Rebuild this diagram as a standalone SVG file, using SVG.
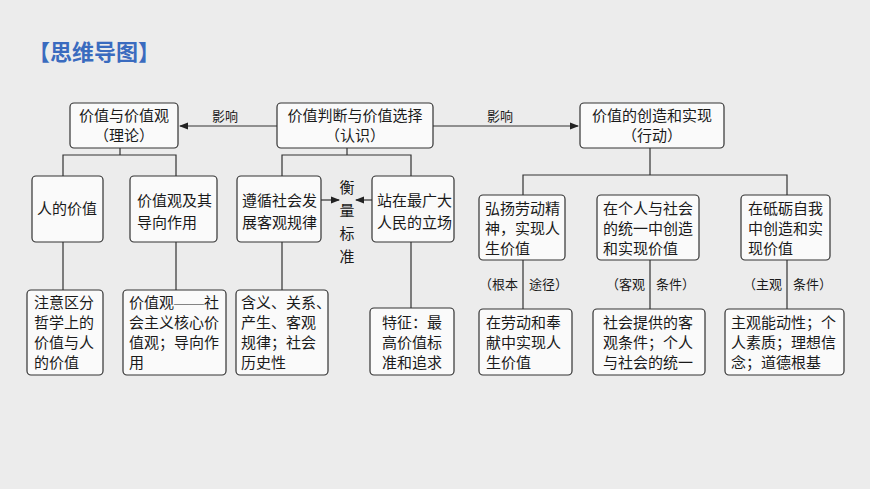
<svg xmlns="http://www.w3.org/2000/svg" width="870" height="489" viewBox="0 0 870 489">
<defs>
<marker id="ar" markerWidth="8" markerHeight="6" refX="7" refY="3" orient="auto"><path d="M0,0 L8,3 L0,6 z" fill="#222"/></marker>
<style>
.b{fill:#fafafa;stroke:#333;stroke-width:1.2}
.t{font-family:"Liberation Serif","Noto Sans CJK SC",serif;font-size:15px;fill:#1a1a1a}
.s{font-family:"Liberation Serif","Noto Sans CJK SC",serif;font-size:13px;fill:#1a1a1a}
.l{stroke:#333;stroke-width:1.2;fill:none}
</style>
</defs>
<rect width="870" height="489" fill="#ececec"/>
<text x="28" y="60" font-family="Noto Sans CJK SC,sans-serif" font-size="22" font-weight="bold" fill="#3a6bbf">【思维导图】</text>
<g id="connectors">
<path class="l" marker-end="url(#ar)" d="M277,126 H180"/>
<path class="l" marker-end="url(#ar)" d="M433,126 H578"/>
<path class="l" d="M120,148 V155 M63,176 V155 H176 V176 M63,242 V290 M176,242 V290"/>
<path class="l" d="M347,148 V155 M282,176 V155 H411 V176 M282,242 V290 M411,242 V308"/>
<path class="l" marker-end="url(#ar)" d="M321,200 H339"/>
<path class="l" marker-end="url(#ar)" d="M372,200 H356"/>
<path class="l" d="M650,148 V175 M523,195 V175 H787 V195 M523,260 V309 M650,260 V309 M787,260 V309"/>
<text class="s" x="225" y="121" text-anchor="middle">影响</text>
<text class="s" x="500" y="121" text-anchor="middle">影响</text>
<text class="t" x="347" y="193" text-anchor="middle">衡</text>
<text class="t" x="347" y="216" text-anchor="middle">量</text>
<text class="t" x="347" y="239" text-anchor="middle">标</text>
<text class="t" x="347" y="262" text-anchor="middle">准</text>
<text class="s" x="518" y="289" text-anchor="end">（根本</text><text class="s" x="529" y="289">途径）</text>
<text class="s" x="645" y="289" text-anchor="end">（客观</text><text class="s" x="656" y="289">条件）</text>
<text class="s" x="782" y="289" text-anchor="end">（主观</text><text class="s" x="793" y="289">条件）</text>
</g>
<g id="nA"><rect class="b" x="70" y="103" width="108" height="45" rx="4"/><text class="t" x="124" y="121" text-anchor="middle">价值与价值观</text><text class="t" x="124" y="141" text-anchor="middle">（理论）</text></g>
<g id="nB"><rect class="b" x="277" y="103" width="156" height="45" rx="4"/><text class="t" x="355" y="121" text-anchor="middle">价值判断与价值选择</text><text class="t" x="355" y="141" text-anchor="middle">（认识）</text></g>
<g id="nC"><rect class="b" x="580" y="103" width="144" height="45" rx="4"/><text class="t" x="652" y="121" text-anchor="middle">价值的创造和实现</text><text class="t" x="652" y="141" text-anchor="middle">（行动）</text></g>
<g id="n1"><rect class="b" x="32" y="176" width="71" height="66" rx="4"/><text class="t" x="67" y="214" text-anchor="middle">人的价值</text></g>
<g id="n2"><rect class="b" x="130" y="176" width="87" height="66" rx="4"/><text class="t" x="137" y="206">价值观及其</text><text class="t" x="137" y="228">导向作用</text></g>
<g id="n3"><rect class="b" x="237" y="176" width="84" height="66" rx="4"/><text class="t" x="242" y="206">遵循社会发</text><text class="t" x="242" y="228">展客观规律</text></g>
<g id="n4"><rect class="b" x="372" y="176" width="82" height="66" rx="4"/><text class="t" x="377" y="206">站在最广大</text><text class="t" x="377" y="228">人民的立场</text></g>
<g id="n5"><rect class="b" x="479" y="195" width="86" height="65" rx="4"/><text class="t" x="485" y="214">弘扬劳动精</text><text class="t" x="485" y="234">神，实现人</text><text class="t" x="485" y="254">生价值</text></g>
<g id="n6"><rect class="b" x="597" y="195" width="102" height="65" rx="4"/><text class="t" x="603" y="214">在个人与社会</text><text class="t" x="603" y="234">的统一中创造</text><text class="t" x="603" y="254">和实现价值</text></g>
<g id="n7"><rect class="b" x="741" y="195" width="89" height="65" rx="4"/><text class="t" x="748" y="214">在砥砺自我</text><text class="t" x="748" y="234">中创造和实</text><text class="t" x="748" y="254">现价值</text></g>
<g id="n8"><rect class="b" x="27" y="290" width="76" height="85" rx="4"/><text class="t" x="34" y="308">注意区分</text><text class="t" x="34" y="328">哲学上的</text><text class="t" x="34" y="348">价值与人</text><text class="t" x="34" y="368">的价值</text></g>
<g id="n9"><rect class="b" x="123" y="290" width="103" height="85" rx="4"/><text class="t" x="129" y="308">价值观——社</text><text class="t" x="129" y="328">会主义核心价</text><text class="t" x="129" y="348">值观；导向作</text><text class="t" x="129" y="368">用</text></g>
<g id="n10"><rect class="b" x="236" y="290" width="92" height="85" rx="4"/><text class="t" x="241" y="308">含义、关系、</text><text class="t" x="241" y="328">产生、客观</text><text class="t" x="241" y="348">规律；社会</text><text class="t" x="241" y="368">历史性</text></g>
<g id="n11"><rect class="b" x="370" y="308" width="84" height="67" rx="4"/><text class="t" x="412" y="328" text-anchor="middle">特征：最</text><text class="t" x="412" y="348" text-anchor="middle">高价值标</text><text class="t" x="412" y="368" text-anchor="middle">准和追求</text></g>
<g id="n12"><rect class="b" x="479" y="309" width="93" height="66" rx="4"/><text class="t" x="486" y="328">在劳动和奉</text><text class="t" x="486" y="348">献中实现人</text><text class="t" x="486" y="368">生价值</text></g>
<g id="n13"><rect class="b" x="593" y="309" width="112" height="66" rx="4"/><text class="t" x="603" y="328">社会提供的客</text><text class="t" x="603" y="348">观条件；个人</text><text class="t" x="603" y="368">与社会的统一</text></g>
<g id="n14"><rect class="b" x="725" y="309" width="119" height="66" rx="4"/><text class="t" x="731" y="328">主观能动性；个</text><text class="t" x="731" y="348">人素质；理想信</text><text class="t" x="731" y="368">念；道德根基</text></g>
</svg>
